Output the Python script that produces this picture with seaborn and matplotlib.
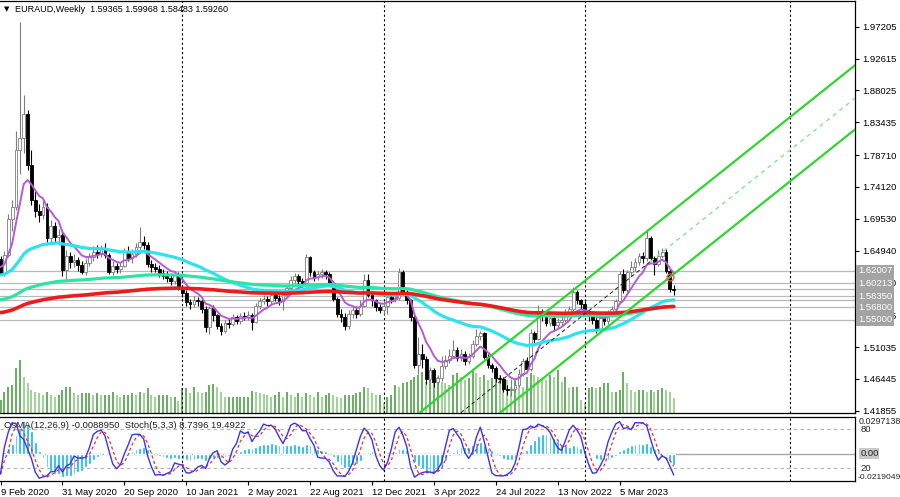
import numpy as np
import pandas as pd
import matplotlib
matplotlib.use("Agg")
import matplotlib.pyplot as plt
import seaborn as sns
from matplotlib.transforms import blended_transform_factory as blend

sns.set_theme(style="white")
plt.rcParams['font.family'] = ['Liberation Sans', 'DejaVu Sans']

# ---------------- data (weekly EURAUD, first bar = 9 Feb 2020) ----------------
first_open = 1.6370
close = [1.6170, 1.6430, 1.6950, 1.7120, 1.7940, 1.8120, 1.8460, 1.7720, 1.7220, 1.7060,
         1.7000, 1.7120, 1.6680, 1.6850, 1.6690, 1.6720, 1.6210, 1.6420, 1.6330, 1.6360,
         1.6280, 1.6190, 1.6320, 1.6400, 1.6480, 1.6440, 1.6520, 1.6430, 1.6190, 1.6270,
         1.6230, 1.6270, 1.6470, 1.6390, 1.6450, 1.6540, 1.6610, 1.6580, 1.6300, 1.6260,
         1.6230, 1.6170, 1.6130, 1.6100, 1.6060, 1.6140, 1.5960, 1.5880, 1.5750, 1.5720,
         1.5780, 1.5760, 1.5650, 1.5390, 1.5660, 1.5560, 1.5400, 1.5340, 1.5450, 1.5430,
         1.5530, 1.5480, 1.5550, 1.5540, 1.5560, 1.5470, 1.5690, 1.5760, 1.5800, 1.5760,
         1.5860, 1.5810, 1.5760, 1.5850, 1.5960, 1.6070, 1.6120, 1.6060, 1.6020, 1.6400,
         1.6180, 1.6110, 1.6150, 1.6180, 1.6150, 1.6020, 1.5800, 1.5580, 1.5540, 1.5400,
         1.5580, 1.5640, 1.5580, 1.5700, 1.6070, 1.5860, 1.5780, 1.5680, 1.5640, 1.5700,
         1.5830, 1.5800, 1.5810, 1.6180, 1.5900, 1.5780, 1.5530, 1.4850, 1.5000, 1.4930,
         1.4640, 1.4770, 1.4600, 1.4650, 1.4830, 1.4920, 1.4980, 1.5060, 1.4950, 1.5000,
         1.4900, 1.4970, 1.5150, 1.5260, 1.5300, 1.4960, 1.4850, 1.4800, 1.4650, 1.4640,
         1.4500, 1.4480, 1.4500, 1.4560, 1.4720, 1.4900, 1.4780, 1.5300, 1.5220, 1.5600,
         1.5560, 1.5450, 1.5520, 1.5420, 1.5460, 1.5500, 1.5600, 1.5650, 1.5900, 1.5780,
         1.5720, 1.5600, 1.5550, 1.5500, 1.5360, 1.5520, 1.5480, 1.5580, 1.5650, 1.5760,
         1.6160, 1.5930, 1.6180, 1.6250, 1.6330, 1.6420, 1.6380, 1.6670, 1.6380, 1.6300,
         1.6420, 1.6470, 1.6200, 1.59365, 1.59260]
high = [1.6420, 1.6490, 1.7020, 1.7220, 1.8210, 1.9790, 1.8730, 1.8520, 1.7950, 1.7350,
        1.7160, 1.7220, 1.7180, 1.6930, 1.6900, 1.6800, 1.6760, 1.6500, 1.6480, 1.6450,
        1.6400, 1.6350, 1.6380, 1.6460, 1.6560, 1.6570, 1.6580, 1.6600, 1.6460, 1.6340,
        1.6320, 1.6330, 1.6530, 1.6560, 1.6510, 1.6600, 1.6830, 1.6700, 1.6620, 1.6360,
        1.6320, 1.6290, 1.6230, 1.6200, 1.6160, 1.6200, 1.6180, 1.6000, 1.5920, 1.5790,
        1.5840, 1.5830, 1.5800, 1.5700, 1.5700, 1.5710, 1.5580, 1.5450, 1.5500, 1.5510,
        1.5580, 1.5570, 1.5600, 1.5610, 1.5620, 1.5590, 1.5740, 1.5810, 1.5860, 1.5840,
        1.5900, 1.5910, 1.5850, 1.5880, 1.6000, 1.6120, 1.6170, 1.6150, 1.6100, 1.6450,
        1.6420, 1.6210, 1.6200, 1.6230, 1.6220, 1.6190, 1.6050, 1.5830, 1.5650, 1.5590,
        1.5630, 1.5700, 1.5690, 1.5780, 1.6150, 1.6150, 1.5900, 1.5800, 1.5730, 1.5760,
        1.5880, 1.5870, 1.5870, 1.6240, 1.6220, 1.5930, 1.5800, 1.5560, 1.5250, 1.5150,
        1.4980, 1.4810, 1.4800, 1.4700, 1.4970, 1.4990, 1.5080, 1.5200, 1.5100, 1.5080,
        1.5040, 1.5020, 1.5200, 1.5370, 1.5340, 1.5320, 1.5000, 1.4880, 1.4830, 1.4700,
        1.4670, 1.4560, 1.4640, 1.4620, 1.4780, 1.4950, 1.4960, 1.5370, 1.5330, 1.5710,
        1.5650, 1.5600, 1.5600, 1.5560, 1.5520, 1.5560, 1.5650, 1.5700, 1.5975, 1.5930,
        1.5800, 1.5760, 1.5640, 1.5600, 1.5530, 1.5560, 1.5570, 1.5630, 1.5700, 1.5800,
        1.6200, 1.6230, 1.6220, 1.6350, 1.6380, 1.6460, 1.6470, 1.6800, 1.6700, 1.6420,
        1.6500, 1.6530, 1.6520, 1.6230, 1.59968]
low = [1.6140, 1.6120, 1.6400, 1.6780, 1.7080, 1.7600, 1.7900, 1.7650, 1.7150, 1.6980,
       1.6900, 1.6950, 1.6620, 1.6600, 1.6600, 1.6580, 1.6120, 1.6050, 1.6240, 1.6250,
       1.6200, 1.6150, 1.6140, 1.6270, 1.6350, 1.6380, 1.6400, 1.6380, 1.6150, 1.6140,
       1.6170, 1.6170, 1.6250, 1.6350, 1.6320, 1.6400, 1.6500, 1.6520, 1.6260, 1.6180,
       1.6180, 1.6110, 1.6080, 1.6040, 1.6000, 1.6010, 1.5920, 1.5820, 1.5700, 1.5650,
       1.5680, 1.5700, 1.5600, 1.5320, 1.5290, 1.5480, 1.5360, 1.5280, 1.5300, 1.5380,
       1.5400, 1.5430, 1.5440, 1.5490, 1.5490, 1.5350, 1.5450, 1.5650, 1.5720, 1.5700,
       1.5720, 1.5760, 1.5710, 1.5640, 1.5820, 1.5920, 1.6020, 1.6000, 1.5970, 1.6000,
       1.6130, 1.6050, 1.6070, 1.6100, 1.6090, 1.5990, 1.5760, 1.5540, 1.5470, 1.5350,
       1.5370, 1.5520, 1.5520, 1.5550, 1.5680, 1.5830, 1.5700, 1.5620, 1.5600, 1.5580,
       1.5580, 1.5740, 1.5750, 1.5780, 1.5860, 1.5720, 1.5480, 1.4800, 1.4720, 1.4800,
       1.4570, 1.4580, 1.4520, 1.4560, 1.4620, 1.4780, 1.4870, 1.4940, 1.4900, 1.4900,
       1.4850, 1.4860, 1.4940, 1.5120, 1.5200, 1.4930, 1.4800, 1.4740, 1.4600, 1.4580,
       1.4450, 1.4410, 1.4400, 1.4450, 1.4520, 1.4690, 1.4740, 1.4760, 1.5160, 1.5200,
       1.5480, 1.5400, 1.5410, 1.5330, 1.5380, 1.5420, 1.5460, 1.5560, 1.5620, 1.5720,
       1.5650, 1.5560, 1.5480, 1.5440, 1.5300, 1.5330, 1.5420, 1.5440, 1.5540, 1.5620,
       1.5730, 1.5880, 1.5900, 1.6130, 1.6200, 1.6280, 1.6320, 1.6350, 1.6340, 1.6140,
       1.6270, 1.6380, 1.6170, 1.5900, 1.58483]
volume = [130, 210, 260, 280, 450, 530, 360, 300, 230, 210,
          200, 180, 210, 180, 160, 180, 230, 260, 260, 200,
          180, 200, 200, 200, 180, 200, 180, 180, 180, 210,
          180, 160, 180, 180, 200, 180, 210, 200, 250, 180,
          160, 180, 180, 180, 160, 160, 120, 250, 250, 200,
          260, 210, 200, 210, 280, 290, 260, 210, 160, 160,
          160, 160, 160, 160, 160, 220, 210, 200, 190, 180,
          160, 180, 210, 160, 210, 180, 160, 200, 160, 200,
          180, 160, 210, 160, 180, 200, 180, 160, 150, 180,
          180, 180, 200, 210, 260, 250, 200, 180, 180, 100,
          160, 180, 280, 260, 300, 310, 330, 360, 380, 410,
          310, 330, 350, 360, 310, 300, 280, 380, 400, 360,
          330, 350, 430, 400, 360, 380, 330, 350, 400, 380,
          350, 330, 260, 330, 310, 260, 360, 400, 380, 360,
          350, 330, 380, 360, 430, 310, 360, 250, 260, 260,
          130, 100, 250, 260, 250, 260, 300, 300, 210, 210,
          230, 410, 300, 230, 210, 230, 230, 210, 230, 210,
          230, 250, 230, 210, 150]

# ------------- chart furniture values -------------
price_ticks = [1.97205, 1.92615, 1.88025, 1.83435, 1.78710, 1.74120, 1.69530, 1.64940,
               1.60350, 1.55625, 1.51035, 1.46445, 1.41855]
level_prices = [1.62007, 1.60213, 1.59450, 1.58350, 1.57800, 1.56800, 1.55000]
hidden_level_labels = [1.59450, 1.57800]
shown_level_labels = [1.62007, 1.60213, 1.58350, 1.56800, 1.55000]
date_idx = [0, 16, 32, 48, 64, 80, 96, 112, 128, 144, 160]
date_labels = ["9 Feb 2020", "31 May 2020", "20 Sep 2020", "10 Jan 2021", "2 May 2021",
               "22 Aug 2021", "12 Dec 2021", "3 Apr 2022", "24 Jul 2022", "13 Nov 2022",
               "5 Mar 2023"]
separator_idx = [47, 99, 151, 204]
chan_idx = [108, 221]
chan_upper = [1.41425, 1.91710]
chan_mid = [1.36675, 1.86960]
chan_lower = [1.32175, 1.82460]
mid_split_idx = 168
ma_periods = [8, 50, 144, 200]
ma_seeds = [1.6280, 1.6140, 1.5780, 1.5594]
marker_idx, marker_price = 173, 1.6117

# ---------------- derived ----------------
n = len(close)
idx = np.arange(n)
c = np.array(close)
o = np.concatenate([[first_open], c[:-1]])
h = np.array(high)
l = np.array(low)
vol = np.array(volume)


def ema(vals, period, seed):
    a = 2.0 / (period + 1)
    out = np.empty(len(vals))
    prev = seed
    for k, v in enumerate(vals):
        prev = prev + a * (v - prev)
        out[k] = prev
    return out

mas = [ema(c, p, s) for p, s in zip(ma_periods, ma_seeds)]

cs = pd.Series(c)
macd = cs.ewm(span=12, adjust=False).mean() - cs.ewm(span=26, adjust=False).mean()
osma = (macd - macd.rolling(9, min_periods=1).mean()).values
ll = pd.Series(l).rolling(5, min_periods=1).min()
hh = pd.Series(h).rolling(5, min_periods=1).max()
k_line = 100 * (cs - ll).rolling(3, min_periods=1).sum() / (hh - ll).rolling(3, min_periods=1).sum()
d_line = k_line.rolling(3, min_periods=1).mean()

# ---------------- figure ----------------
W, H = 900, 497
fig = plt.figure(figsize=(W / 100, H / 100), dpi=100)
fig.patch.set_facecolor("white")

def fbox(x0, y0, x1, y1):
    return [x0 / W, 1 - y1 / H, (x1 - x0) / W, (y1 - y0) / H]

XL = (-0.13, 220.85)
YL = (1.41524, 2.00909)
FS = 6.8

ax_v = fig.add_axes(fbox(0, 1, 855, 413))
ax = fig.add_axes(fbox(0, 1, 855, 413))
ax_o = fig.add_axes(fbox(0, 416.5, 855, 481))
ax_s = fig.add_axes(fbox(0, 416.5, 855, 481))
for a in (ax_v, ax, ax_o, ax_s):
    a.set_xlim(*XL)
ax.set_facecolor("none")
ax_s.set_facecolor("none")
ax_v.set_facecolor("white")
ax_o.set_facecolor("white")

# volume (background): darker green when volume rose, lighter when it fell
ax_v.set_ylim(0, 4120)
vol_up = np.concatenate([[True], vol[1:] >= vol[:-1]])
ax_v.vlines(idx[vol_up], 0, vol[vol_up], color="#3f9a35", lw=1.1)
ax_v.vlines(idx[~vol_up], 0, vol[~vol_up], color="#86c77a", lw=1.1)
ax_v.axis("off")

# main price panel
ax.set_ylim(*YL)
for p in level_prices:
    ax.axhline(p, color="#b9b9b9", lw=0.9, zorder=1)
for s in separator_idx:
    ax.axvline(s, color="black", lw=0.8, dashes=(2, 2.2), zorder=2)

bull = c >= o
ax.vlines(idx[bull], l[bull], h[bull], color="#7d7d7d", lw=0.8, zorder=3)
ax.vlines(idx[~bull], l[~bull], h[~bull], color="black", lw=0.8, zorder=3)
body_lo = np.minimum(o, c)
body_h = np.maximum(np.abs(c - o), 0.0006)
ax.bar(idx[bull], body_h[bull], bottom=body_lo[bull], width=0.72, color="white",
       edgecolor="#7d7d7d", linewidth=0.6, zorder=3.5)
ax.bar(idx[~bull], body_h[~bull], bottom=body_lo[~bull], width=0.72, color="black",
       edgecolor="black", linewidth=0.6, zorder=3.5)

ma_colors = ["#b65ad9", "#2de3ee", "#2de3a6", "#ec1c1c"]
ma_widths = [1.4, 2.3, 2.3, 2.6]
for m, col, lw in zip(mas, ma_colors, ma_widths):
    sns.lineplot(x=idx, y=m, color=col, lw=lw, ax=ax, zorder=4, legend=False)

# regression-style channel
ax.plot(chan_idx, chan_upper, color="#2ed62e", lw=1.6, zorder=5, solid_capstyle="butt")
ax.plot(chan_idx, chan_lower, color="#2ed62e", lw=1.6, zorder=5, solid_capstyle="butt")
slope = (chan_mid[1] - chan_mid[0]) / (chan_idx[1] - chan_idx[0])
mid_split = chan_mid[0] + slope * (mid_split_idx - chan_idx[0])
ax.plot([chan_idx[0], mid_split_idx], [chan_mid[0], mid_split], color="#222222", lw=0.7,
        dashes=(4, 3), zorder=5)
ax.plot([mid_split_idx, chan_idx[1]], [mid_split, chan_mid[1]], color="#86e686", lw=1.0,
        dashes=(3, 3), zorder=5)
ax.plot([marker_idx], [marker_price], marker="o", ms=5, mfc="none", mec="#ff5050",
        mew=1.0, zorder=6)

ax.yaxis.tick_right()
ax.set_yticks(price_ticks)
ax.set_yticklabels([f"{p:.5f}" for p in price_ticks])
ax.tick_params(axis="y", direction="out", length=3, width=0.8, pad=2, labelsize=FS,
               colors="black", right=True, left=False)
ax.set_xticks([])
for side in ("top", "right", "bottom"):
    ax.spines[side].set_visible(True)
    ax.spines[side].set_color("black")
    ax.spines[side].set_linewidth(0.9)
ax.spines["left"].set_visible(False)

tr = blend(ax.transAxes, ax.transData)
for zo, labels in ((9, hidden_level_labels), (10, shown_level_labels)):
    for p in labels:
        ax.text(1.0035, p, f"{p:.5f}", transform=tr, ha="left", va="center", fontsize=FS,
                color="white", zorder=zo, clip_on=False,
                bbox=dict(boxstyle="square,pad=0.18", fc="#a3a3a3", ec="none"))

# oscillator panel
ax_o.set_ylim(-0.0219049, 0.0297138)
ax_o.axhline(0, color="#a8a8a8", lw=1.0, zorder=1)
ax_o.bar(idx, osma, width=0.72, color="#0ab2f5", zorder=2)
for s in separator_idx:
    ax_o.axvline(s, color="black", lw=0.8, dashes=(2, 2.2), zorder=3)
ax_o.set_yticks([])
ax_o.set_xticks(date_idx)
ax_o.set_xticklabels(date_labels, ha="left")
ax_o.tick_params(axis="x", direction="out", length=3, width=0.8, pad=2, labelsize=FS,
                 colors="black", bottom=True)
for side in ("top", "right", "bottom"):
    ax_o.spines[side].set_visible(True)
    ax_o.spines[side].set_color("black")
    ax_o.spines[side].set_linewidth(0.9)
ax_o.spines["left"].set_visible(False)

ax_s.set_ylim(0, 100)
for lv in (80, 20):
    ax_s.axhline(lv, color="#b3b3b3", lw=0.8, dashes=(3, 3), zorder=1)
sns.lineplot(x=idx, y=k_line.values, color="#3535f5", lw=1.0, ax=ax_s, legend=False, zorder=4)
sns.lineplot(x=idx, y=d_line.values, color="#f03030", lw=0.9, ax=ax_s, legend=False, zorder=3)
ax_s.lines[-1].set_dashes((2.5, 2))
ax_s.axis("off")

tro = blend(ax_o.transAxes, ax_o.transData)
trs = blend(ax_s.transAxes, ax_s.transData)
ax_o.text(1.004, 0.0297138, "0.0297138", transform=tro, ha="left", va="top", fontsize=6.4,
          clip_on=False)
ax_o.text(1.003, -0.0219049, "-0.0219049", transform=tro, ha="left", va="bottom", fontsize=6.1,
          clip_on=False)
ax_s.text(1.006, 80, "80", transform=trs, ha="left", va="center", fontsize=FS, clip_on=False)
ax_s.text(1.006, 20, "20", transform=trs, ha="left", va="center", fontsize=FS, clip_on=False)
ax_o.text(1.006, 0, "0.00", transform=tro, ha="left", va="center", fontsize=FS, clip_on=False,
          bbox=dict(boxstyle="square,pad=0.1", fc="#c8c8c8", ec="none"))

ax_o.text(0.005, 0.93, "OsMA(12,26,9) -0.0088950  Stoch(5,3,3) 8.7396 19.4922",
          transform=ax_o.transAxes, ha="left", va="top", fontsize=FS, color="#202020", zorder=10)

fig.text(4 / W, 1 - 9 / H, "\u25BC", fontsize=5, ha="left", va="center", color="black",
         family=["DejaVu Sans"])
fig.text(15 / W, 1 - 9 / H, "EURAUD,Weekly  1.59365 1.59968 1.58483 1.59260", fontsize=6.5,
         ha="left", va="center", color="black")

fig.savefig("out.png", dpi=100, facecolor="white")
